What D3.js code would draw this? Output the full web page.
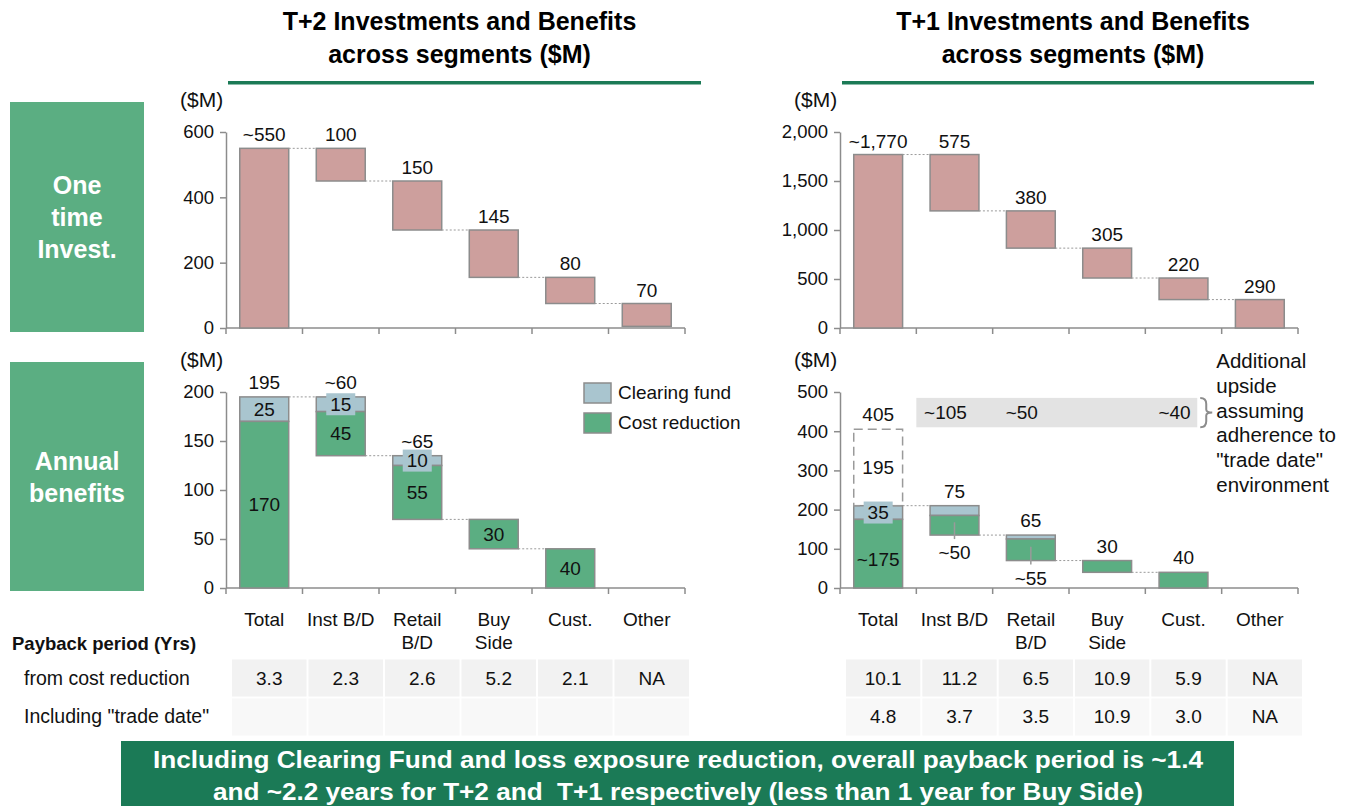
<!DOCTYPE html>
<html lang="en">
<head>
  <meta charset="UTF-8">
  <title>T+2 / T+1 Investments and Benefits</title>
  <script src="https://d3js.org/d3.v7.min.js"></script>
  <style>
    body { margin: 0; background: #fff; font-family: "Liberation Sans", Arial, sans-serif; }
    text { font-size: 19px; fill: #111; }
    .axis path, .axis line { stroke: #8c8c8c; stroke-width: 1.5px; }
    .axis text { font-size: 18.5px; fill: #111; font-family: "Liberation Sans", Arial, sans-serif; }
    .conn { stroke: #9a9a9a; stroke-width: 1; stroke-dasharray: 2,2; }
  </style>
</head>
<body>
  <svg id="viz" width="1351" height="806"></svg>

  <script>
    const categories = ["Total", "Inst B/D", "Retail B/D", "Buy Side", "Cust.", "Other"];
    const catLines = [["Total"], ["Inst B/D"], ["Retail", "B/D"], ["Buy", "Side"], ["Cust."], ["Other"]];

    // one time investment (waterfall: total, then segment pieces)
    const t2Invest = [550, 100, 150, 145, 80, 70];
    const t2InvestLabels = ["~550", "100", "150", "145", "80", "70"];
    const t1Invest = [1770, 575, 380, 305, 220, 290];
    const t1InvestLabels = ["~1,770", "575", "380", "305", "220", "290"];

    // annual benefits
    const t2Cost = [170, 45, 55, 30, 40, 0];
    const t2Clearing = [25, 15, 10, 0, 0, 0];
    const t2TopLabels = ["195", "~60", "~65", "", "", ""];
    const t2CostLabels = ["170", "45", "55", "30", "40", ""];

    const t1Cost = [175, 50, 55, 30, 40, 0];
    const t1Clearing = [35, 25, 10, 0, 0, 0];
    const t1TopLabels = ["", "75", "65", "30", "40", ""];
    const t1CostLabels = ["~175", "~50", "~55", "", "", ""];
    const t1TradeDate = 195, t1TradeTotal = 405;
    const t1Upside = ["", "~105", "~50", "", "~40", ""];
    const upsideBand = [410, 485];

    const paybackT2 = [["3.3", "2.3", "2.6", "5.2", "2.1", "NA"], ["", "", "", "", "", ""]];
    const paybackT1 = [["10.1", "11.2", "6.5", "10.9", "5.9", "NA"], ["4.8", "3.7", "3.5", "10.9", "3.0", "NA"]];

    const pink = "#cd9f9d", green = "#5bae82", blue = "#a9c5cf", dark = "#1b7a56", edge = "#8c8c8c";

    const svg = d3.select("#viz");

    // panels
    const xL = d3.scaleBand().domain(categories).range([226, 685]);
    const xR = d3.scaleBand().domain(categories).range([840, 1298]);
    const yTopL = d3.scaleLinear().domain([0, 600]).range([328, 132]);
    const yTopR = d3.scaleLinear().domain([0, 2000]).range([328, 132]);
    const yBotL = d3.scaleLinear().domain([0, 200]).range([588, 392]);
    const yBotR = d3.scaleLinear().domain([0, 500]).range([588, 392]);

    const barW = x => x.bandwidth() * 0.64;
    const bx = (x, c) => x(c) + (x.bandwidth() - barW(x)) / 2;
    const cx = (x, c) => x(c) + x.bandwidth() / 2;

    function axes(x, y, ticks) {
      svg.append("g").attr("class", "axis")
        .attr("transform", `translate(${x.range()[0]},0)`)
        .call(d3.axisLeft(y).tickValues(ticks).tickSize(6).tickSizeOuter(0).tickPadding(6).tickFormat(d3.format(",")));
      const g = svg.append("g").attr("class", "axis");
      g.append("line").attr("x1", x.range()[0]).attr("x2", x.range()[1])
        .attr("y1", y(0)).attr("y2", y(0));
      g.selectAll(".xt").data(categories.concat(["end"])).enter().append("line")
        .attr("x1", (d, i) => x.range()[0] + i * x.step())
        .attr("x2", (d, i) => x.range()[0] + i * x.step())
        .attr("y1", y(0)).attr("y2", y(0) + 6);
      svg.append("text").attr("x", x.range()[0] - 46).attr("y", y.range()[1] - 25)
        .style("font-size", "21px").text("($M)");
    }

    function investPanel(x, y, vals, labels, ticks) {
      axes(x, y, ticks);
      const bars = [];
      let top = vals[0];
      bars.push({ c: categories[0], y0: 0, y1: vals[0] });
      for (let i = 1; i < vals.length; i++) {
        const b = Math.max(0, top - vals[i]);
        bars.push({ c: categories[i], y0: b, y1: top });
        top = b;
      }
      svg.append("g").selectAll("rect").data(bars).enter().append("rect")
        .attr("x", d => bx(x, d.c)).attr("width", barW(x))
        .attr("y", d => y(d.y1)).attr("height", d => y(d.y0) - y(d.y1))
        .attr("fill", pink).attr("stroke", edge).attr("stroke-width", 1.5);
      // connectors
      svg.append("g").selectAll("line").data(bars.slice(0, -1)).enter().append("line")
        .attr("class", "conn")
        .attr("x1", d => bx(x, d.c) + barW(x))
        .attr("x2", (d, i) => bx(x, categories[i + 1]))
        .attr("y1", (d, i) => y(i === 0 ? d.y1 : d.y0))
        .attr("y2", (d, i) => y(i === 0 ? d.y1 : d.y0));
      svg.append("g").selectAll("text").data(bars).enter().append("text")
        .attr("x", d => cx(x, d.c)).attr("y", d => y(d.y1) - 7)
        .attr("text-anchor", "middle").text((d, i) => labels[i]);
    }

    function benefitBars(x, y, cost, clr) {
      const bars = [];
      const total = cost[0] + clr[0];
      bars.push({ c: categories[0], g0: 0, g1: cost[0], b1: total });
      let top = total;
      for (let i = 1; i < cost.length; i++) {
        const mid = top - clr[i], low = mid - cost[i];
        bars.push({ c: categories[i], g0: low, g1: mid, b1: top });
        top = low;
      }
      const drawn = bars.filter(d => d.b1 > d.g0);
      const g = svg.append("g");
      g.selectAll(".clr").data(drawn.filter(d => d.b1 > d.g1)).enter().append("rect")
        .attr("x", d => bx(x, d.c)).attr("width", barW(x))
        .attr("y", d => y(d.b1)).attr("height", d => y(d.g1) - y(d.b1))
        .attr("fill", blue).attr("stroke", edge).attr("stroke-width", 1.5);
      g.selectAll(".cst").data(drawn.filter(d => d.g1 > d.g0)).enter().append("rect")
        .attr("x", d => bx(x, d.c)).attr("width", barW(x))
        .attr("y", d => y(d.g1)).attr("height", d => y(d.g0) - y(d.g1))
        .attr("fill", green).attr("stroke", edge).attr("stroke-width", 1.5);
      const links = drawn.slice(0, -1);
      svg.append("g").selectAll("line").data(links).enter().append("line")
        .attr("class", "conn")
        .attr("x1", d => bx(x, d.c) + barW(x))
        .attr("x2", (d, i) => bx(x, drawn[i + 1].c))
        .attr("y1", (d, i) => y(i === 0 ? d.b1 : d.g0))
        .attr("y2", (d, i) => y(i === 0 ? d.b1 : d.g0));
      return bars;
    }

    function clearLabel(x, y, d, txt) {
      const h = y(d.g1) - y(d.b1);
      const my = (y(d.g1) + y(d.b1)) / 2;
      if (h < 20) {
        svg.append("rect").attr("x", cx(x, d.c) - 14.5).attr("y", my - 11)
          .attr("width", 29).attr("height", 22).attr("fill", blue);
      }
      svg.append("text").attr("x", cx(x, d.c)).attr("y", my + 6.5)
        .attr("text-anchor", "middle").text(txt);
    }

    // ---------- titles ----------
    [["T+2 Investments and Benefits", "across segments ($M)", xL], ["T+1 Investments and Benefits", "across segments ($M)", xR]]
      .forEach(([a, b, x]) => {
        const mid = (x.range()[0] + x.range()[1]) / 2 + 4;
        const t = svg.append("text").attr("text-anchor", "middle")
          .style("font-size", "25px").style("font-weight", "bold").style("fill", "#000");
        t.append("tspan").attr("x", mid).attr("y", 30).text(a);
        t.append("tspan").attr("x", mid).attr("y", 63).text(b);
        svg.append("rect").attr("x", x.range()[0] + 2).attr("y", 81)
          .attr("width", x.range()[1] - x.range()[0] + 14).attr("height", 3.5).attr("fill", dark);
      });

    // ---------- row boxes ----------
    [[["One", "time", "Invest."], 102, 230], [["Annual", "benefits"], 362, 229]].forEach(([lines, y0, h]) => {
      svg.append("rect").attr("x", 10).attr("y", y0).attr("width", 134).attr("height", h).attr("fill", green);
      const t = svg.append("text").attr("text-anchor", "middle")
        .style("font-size", "25px").style("font-weight", "bold").style("fill", "#fff");
      lines.forEach((l, i) => t.append("tspan").attr("x", 77)
        .attr("y", y0 + h / 2 + 9 + (i - (lines.length - 1) / 2) * 32).text(l));
    });

    // ---------- one time investment ----------
    investPanel(xL, yTopL, t2Invest, t2InvestLabels, [0, 200, 400, 600]);
    investPanel(xR, yTopR, t1Invest, t1InvestLabels, [0, 500, 1000, 1500, 2000]);

    // ---------- annual benefits T+2 ----------
    axes(xL, yBotL, [0, 50, 100, 150, 200]);
    const bL = benefitBars(xL, yBotL, t2Cost, t2Clearing);
    bL.forEach((d, i) => {
      if (t2TopLabels[i]) svg.append("text").attr("x", cx(xL, d.c)).attr("y", yBotL(d.b1) - 8)
        .attr("text-anchor", "middle").text(t2TopLabels[i]);
      if (t2Clearing[i]) clearLabel(xL, yBotL, d, String(t2Clearing[i]));
      if (t2CostLabels[i]) svg.append("text").attr("x", cx(xL, d.c))
        .attr("y", (yBotL(d.g0) + yBotL(d.g1)) / 2 + 6.5)
        .attr("text-anchor", "middle").text(t2CostLabels[i]);
    });

    // legend
    [["Clearing fund", blue], ["Cost reduction", green]].forEach(([n, c], i) => {
      svg.append("rect").attr("x", 584).attr("y", 383 + i * 30).attr("width", 27).attr("height", 20)
        .attr("fill", c).attr("stroke", edge).attr("stroke-width", 1.5);
      svg.append("text").attr("x", 618).attr("y", 399 + i * 30).text(n);
    });

    // ---------- annual benefits T+1 ----------
    axes(xR, yBotR, [0, 100, 200, 300, 400, 500]);
    // upside band
    const bandX0 = xR(categories[1]), bandX1 = xR(categories[4]) + xR.bandwidth() * 0.68;
    svg.append("rect").attr("x", bandX0).attr("y", yBotR(upsideBand[1]))
      .attr("width", bandX1 - bandX0).attr("height", yBotR(upsideBand[0]) - yBotR(upsideBand[1]))
      .attr("fill", "#e3e3e3");
    const bandMid = (yBotR(upsideBand[0]) + yBotR(upsideBand[1])) / 2;
    t1Upside.forEach((t, i) => {
      if (t) svg.append("text").attr("x", cx(xR, categories[i]) - 9).attr("y", bandMid + 6.5)
        .attr("text-anchor", "middle").text(t);
    });
    const bx0 = bandX1 + 3, by1 = yBotR(upsideBand[1]), by2 = yBotR(upsideBand[0]), bm = (by1 + by2) / 2;
    svg.append("path").attr("fill", "none").attr("stroke", "#8c8c8c").attr("stroke-width", 2)
      .attr("d", `M${bx0},${by1} Q${bx0 + 6},${by1} ${bx0 + 6},${by1 + 6} L${bx0 + 6},${bm - 3} Q${bx0 + 6},${bm} ${bx0 + 12},${bm}
                  Q${bx0 + 6},${bm} ${bx0 + 6},${bm + 3} L${bx0 + 6},${by2 - 6} Q${bx0 + 6},${by2} ${bx0},${by2}`);
    const note = ["Additional", "upside", "assuming", "adherence to", "\"trade date\"", "environment"];
    const nt = svg.append("text").style("font-size", "20.5px");
    note.forEach((l, i) => nt.append("tspan").attr("x", bx0 + 16).attr("y", 368 + i * 24.8).text(l));

    const bR = benefitBars(xR, yBotR, t1Cost, t1Clearing);
    // dashed trade-date box on total
    const tot = bR[0];
    svg.append("rect").attr("x", bx(xR, tot.c)).attr("width", barW(xR))
      .attr("y", yBotR(t1TradeTotal)).attr("height", yBotR(tot.b1) - yBotR(t1TradeTotal))
      .attr("fill", "none").attr("stroke", "#9a9a9a").attr("stroke-width", 1.5).attr("stroke-dasharray", "9,5");
    svg.append("text").attr("x", cx(xR, tot.c)).attr("y", yBotR(t1TradeTotal) - 8)
      .attr("text-anchor", "middle").text(t1TradeTotal);
    svg.append("text").attr("x", cx(xR, tot.c)).attr("y", (yBotR(t1TradeTotal) + yBotR(tot.b1)) / 2 + 6.5)
      .attr("text-anchor", "middle").text(t1TradeDate);
    clearLabel(xR, yBotR, tot, String(t1Clearing[0]));
    svg.append("text").attr("x", cx(xR, tot.c)).attr("y", (yBotR(tot.g0) + yBotR(tot.g1)) / 2 + 12)
      .attr("text-anchor", "middle").text(t1CostLabels[0]);
    bR.forEach((d, i) => {
      if (i === 0) return;
      if (t1TopLabels[i]) svg.append("text").attr("x", cx(xR, d.c)).attr("y", yBotR(d.b1) - 8)
        .attr("text-anchor", "middle").text(t1TopLabels[i]);
      if (t1CostLabels[i]) {
        const m = (yBotR(d.g0) + yBotR(d.g1)) / 2;
        svg.append("line").attr("x1", cx(xR, d.c)).attr("x2", cx(xR, d.c))
          .attr("y1", m - 3).attr("y2", yBotR(d.g0) + 4).attr("stroke", "#9a9a9a").attr("stroke-width", 1.5);
        svg.append("text").attr("x", cx(xR, d.c)).attr("y", yBotR(d.g0) + 24)
          .attr("text-anchor", "middle").text(t1CostLabels[i]);
      }
    });

    // ---------- category labels ----------
    [xL, xR].forEach(x => {
      catLines.forEach((lines, i) => {
        const t = svg.append("text").attr("text-anchor", "middle");
        lines.forEach((l, j) => t.append("tspan").attr("x", cx(x, categories[i])).attr("y", 626 + j * 23).text(l));
      });
    });

    // ---------- payback table ----------
    svg.append("text").attr("x", 12).attr("y", 650).style("font-weight", "bold").style("font-size", "18.5px")
      .text("Payback period (Yrs)");
    svg.append("text").attr("x", 24).attr("y", 685).style("font-size", "19.5px").text("from cost reduction");
    svg.append("text").attr("x", 24).attr("y", 723).style("font-size", "19.5px").text("Including \"trade date\"");
    [[xL, paybackT2], [xR, paybackT1]].forEach(([x, rows]) => {
      rows.forEach((row, r) => {
        row.forEach((v, i) => {
          const x0 = x(categories[i]) + 6;
          svg.append("rect").attr("x", x0).attr("y", 659.5 + r * 39).attr("width", x.step() - 2).attr("height", 37)
            .attr("fill", r === 0 ? "#f2f2f2" : "#f8f8f8");
          if (v) svg.append("text").attr("x", x0 + (x.step() - 2) / 2).attr("y", 685 + r * 38)
            .attr("text-anchor", "middle").text(v);
        });
      });
    });

    // ---------- banner ----------
    svg.append("rect").attr("x", 121).attr("y", 741).attr("width", 1113).attr("height", 65).attr("fill", dark);
    const bt = svg.append("text").attr("text-anchor", "middle").style("white-space", "pre")
      .style("font-size", "24px").style("font-weight", "bold").style("fill", "#fff");
    bt.append("tspan").attr("x", 678).attr("y", 768).attr("textLength", 1050).attr("lengthAdjust", "spacingAndGlyphs")
      .text("Including Clearing Fund and loss exposure reduction, overall payback period is ~1.4");
    bt.append("tspan").attr("x", 678).attr("y", 800).attr("textLength", 930).attr("lengthAdjust", "spacingAndGlyphs")
      .text("and ~2.2 years for T+2 and  T+1 respectively (less than 1 year for Buy Side)");
  </script>
</body>
</html>
